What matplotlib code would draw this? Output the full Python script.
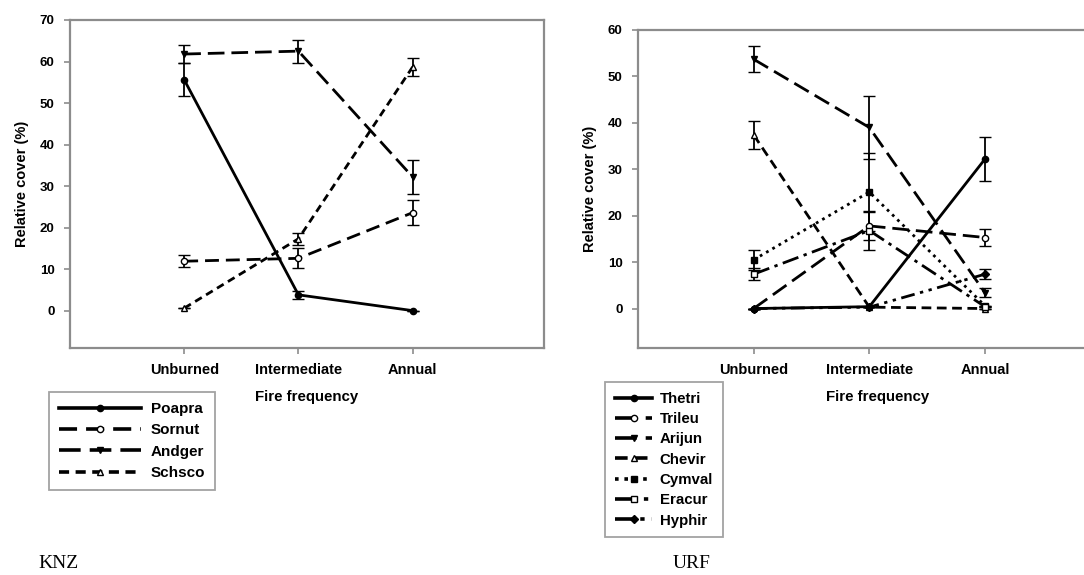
import matplotlib.pyplot as plt
from matplotlib.lines import Line2D

plt.rcParams['font.family'] = ['Liberation Sans', 'DejaVu Sans']

# fire frequency classes
fire = ["Unburned", "Intermediate", "Annual"]
xpos = [1, 2, 3]

# KNZ: relative cover (%) and error
knz_names = ["Poapra", "Sornut", "Andger", "Schsco"]
poapra = [55.6, 3.8, 0.0]
poapra_err = [4.0, 1.0, 0.0]
sornut = [11.9, 12.6, 23.6]
sornut_err = [1.4, 2.4, 3.0]
andger = [61.8, 62.5, 32.2]
andger_err = [2.1, 2.8, 4.1]
schsco = [0.6, 17.3, 58.7]
schsco_err = [0.0, 1.5, 2.2]

# URF: relative cover (%) and error
urf_names = ["Thetri", "Trileu", "Arijun", "Chevir", "Cymval", "Eracur", "Hyphir"]
thetri = [0.0, 0.4, 32.2]
thetri_err = [0.0, 0.0, 4.7]
trileu = [0.0, 17.8, 15.3]
trileu_err = [0.0, 3.0, 1.8]
arijun = [53.7, 39.0, 3.4]
arijun_err = [2.8, 6.7, 1.0]
chevir = [37.4, 0.3, 0.0]
chevir_err = [3.0, 0.0, 0.0]
cymval = [10.5, 25.1, 0.6]
cymval_err = [2.2, 8.3, 0.0]
eracur = [7.4, 16.8, 0.4]
eracur_err = [1.3, 4.2, 0.0]
hyphir = [0.0, 0.3, 7.4]
hyphir_err = [0.0, 0.0, 1.1]

fig = plt.figure(figsize=(10.84, 5.75), dpi=100)


def style_axes(ax, ymin, ymax, yticks):
    ax.set_xlim(0, 4.15)
    ax.set_ylim(ymin, ymax)
    ax.set_xticks(xpos)
    ax.set_xticklabels(fire, fontsize=10.5, fontweight='bold')
    ax.set_yticks(yticks)
    ax.set_yticklabels([str(t) for t in yticks], fontsize=9.5, fontweight='bold')
    for s in ax.spines.values():
        s.set_color('0.55')
        s.set_linewidth(1.6)
    ax.tick_params(direction='out', length=4, width=1.2, color='0.55', pad=7)
    ax.set_ylabel("Relative cover (%)", fontsize=10.5, fontweight='bold', labelpad=8)
    ax.set_xlabel("Fire frequency", fontsize=10.8, fontweight='bold', labelpad=9)


def draw(ax, y, err, ls, marker, filled, ms=4.5):
    fc = 'black' if filled else 'white'
    ax.errorbar(xpos, y, yerr=err, color='black', linewidth=2.0, linestyle=ls,
                marker=marker, markersize=ms, markeredgecolor='black',
                markerfacecolor=fc, markeredgewidth=1.0,
                ecolor='black', elinewidth=1.3, capsize=4, capthick=1.3)
    return Line2D([], [], color='black', linewidth=2.6, linestyle=ls, marker=marker,
                  markersize=ms, markeredgecolor='black', markerfacecolor=fc)


# ---- KNZ
ax1 = fig.add_axes([70 / 1084, 1 - 348 / 575, 474 / 1084, 328 / 575])
h1 = [
    draw(ax1, poapra, poapra_err, '-', 'o', True),
    draw(ax1, sornut, sornut_err, (0, (5, 2.5)), 'o', False),
    draw(ax1, andger, andger_err, (0, (6, 2.5)), 'v', True),
    draw(ax1, schsco, schsco_err, (0, (2.8, 1.8)), '^', False),
]
style_axes(ax1, -9, 70, range(0, 71, 10))
leg1 = fig.legend(h1, knz_names, loc='upper left',
                  bbox_to_anchor=(49 / 1084, 1 - 392 / 575), borderaxespad=0,
                  frameon=True, fancybox=False, edgecolor='0.55', handlelength=5.4,
                  prop={'weight': 'bold', 'size': 11}, labelspacing=0.48,
                  borderpad=0.65, handletextpad=0.6)
leg1.get_frame().set_linewidth(1.3)

# ---- URF
ax2 = fig.add_axes([638 / 1084, 1 - 348 / 575, 480 / 1084, 318 / 575])
h2 = [
    draw(ax2, thetri, thetri_err, '-', 'o', True),
    draw(ax2, trileu, trileu_err, (0, (6, 2.5)), 'o', False),
    draw(ax2, arijun, arijun_err, (0, (6, 2.5)), 'v', True),
    draw(ax2, chevir, chevir_err, (0, (3.5, 2)), '^', False),
    draw(ax2, cymval, cymval_err, (0, (1, 1.6)), 's', True),
    draw(ax2, eracur, eracur_err, (0, (6, 2, 1.2, 2)), 's', False),
    draw(ax2, hyphir, hyphir_err, (0, (5, 2, 1.2, 2, 1.2, 2)), 'D', True, ms=4),
]
style_axes(ax2, -8.5, 60, range(0, 61, 10))
leg2 = fig.legend(h2, urf_names, loc='upper left',
                  bbox_to_anchor=(605 / 1084, 1 - 382 / 575), borderaxespad=0,
                  frameon=True, fancybox=False, edgecolor='0.55', handlelength=2.5,
                  prop={'weight': 'bold', 'size': 10.8}, labelspacing=0.42,
                  borderpad=0.65, handletextpad=0.5)
leg2.get_frame().set_linewidth(1.3)

fig.text(38 / 1084, 1 - 563 / 575, "KNZ", family='Liberation Serif', fontsize=14, va='center')
fig.text(673 / 1084, 1 - 563 / 575, "URF", family='Liberation Serif', fontsize=14, va='center')

plt.savefig("out.png", dpi=100)
